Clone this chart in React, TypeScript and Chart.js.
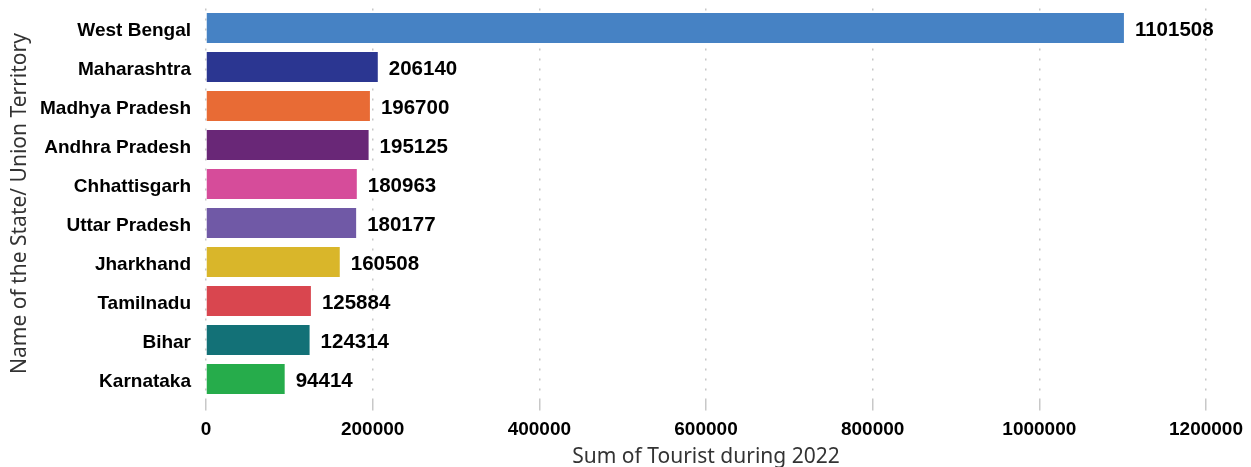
import React, { useEffect, useRef } from "react";
import { Chart, registerables } from "chart.js";

Chart.register(...registerables);

const categories = [
  "West Bengal",
  "Maharashtra",
  "Madhya Pradesh",
  "Andhra Pradesh",
  "Chhattisgarh",
  "Uttar Pradesh",
  "Jharkhand",
  "Tamilnadu",
  "Bihar",
  "Karnataka",
];

const tourists = [1101508, 206140, 196700, 195125, 180963, 180177, 160508, 125884, 124314, 94414];

const barColors = [
  "#4682C4",
  "#2B3691",
  "#E86B35",
  "#692777",
  "#D64C9A",
  "#7059A6",
  "#D9B62A",
  "#D9464F",
  "#137177",
  "#26AC4B",
];

const xTicks = [0, 200000, 400000, 600000, 800000, 1000000, 1200000];

const xTitle = "Sum of Tourist during 2022";
const yTitle = "Name of the State/ Union Territory";

const labelPlugin = {
  id: "barValueLabels",
  afterDatasetsDraw(chart: any) {
    const ctx = chart.ctx;
    const meta = chart.getDatasetMeta(0);
    const data = chart.data.datasets[0].data;
    ctx.save();
    ctx.font = "bold 20.5px 'Liberation Sans', Arial, sans-serif";
    ctx.fillStyle = "#000000";
    ctx.textAlign = "left";
    ctx.textBaseline = "middle";
    meta.data.forEach((el: any, i: number) => {
      ctx.fillText(String(data[i]), el.x + 11, el.y + 2);
    });
    ctx.restore();
  },
};

export default function App() {
  const canvasRef = useRef<HTMLCanvasElement | null>(null);

  useEffect(() => {
    if (!canvasRef.current) return;
    const chart = new Chart(canvasRef.current, {
      type: "bar",
      data: {
        labels: categories,
        datasets: [
          {
            data: tourists,
            backgroundColor: barColors,
            borderWidth: 0,
            barPercentage: 0.77,
            categoryPercentage: 1,
          },
        ],
      },
      plugins: [labelPlugin],
      options: {
        indexAxis: "y",
        animation: false,
        responsive: false,
        maintainAspectRatio: false,
        devicePixelRatio: 1,
        layout: { autoPadding: false, padding: { top: 8.5, right: 45, bottom: 0, left: 0 } },
        plugins: {
          legend: { display: false },
          tooltip: { enabled: false },
        },
        scales: {
          x: {
            type: "linear",
            min: 0,
            max: 1200000,
            afterBuildTicks: (scale: any) => {
              scale.ticks = xTicks.map((v) => ({ value: v }));
            },
            afterFit: (scale: any) => {
              scale.height = 68.5;
              scale.paddingLeft = 0;
              scale.paddingRight = 0;
            },
            border: { display: false },
            grid: {
              color: "#C8C8C8",
              lineWidth: 1.5,
              drawTicks: true,
              tickLength: 12,
            },
            ticks: {
              color: "#000000",
              padding: 8,
              maxRotation: 0,
              font: { family: "'Liberation Sans', Arial, sans-serif", size: 19, weight: "bold" },
              callback: (v: any) => String(v),
            },
            title: {
              display: true,
              text: xTitle,
              color: "#333333",
              padding: { top: 0, bottom: -3 },
              font: { family: "'Noto Sans', sans-serif", size: 21 },
            },
          },
          y: {
            afterFit: (scale: any) => {
              scale.width = 206;
              scale.paddingTop = 0;
              scale.paddingBottom = 0;
            },
            border: { display: false },
            grid: { display: false, drawTicks: false },
            ticks: {
              color: "#000000",
              padding: 15,
              labelOffset: 3,
              font: { family: "'Liberation Sans', Arial, sans-serif", size: 19, weight: "bold" },
            },
            title: {
              display: true,
              text: yTitle,
              color: "#333333",
              padding: { top: 7, bottom: 0 },
              font: { family: "'Noto Sans', sans-serif", size: 21 },
            },
          },
        },
      },
    });
    const xs: any = chart.options.scales!.x;
    xs.grid.borderDash = [2, 8];
    xs.border = { display: false, dash: [2, 8] };
    chart.update();
    return () => chart.destroy();
  }, []);

  return (
    <div style={{ position: "absolute", left: 0, top: 0, width: 1251, height: 467, background: "#ffffff" }}>
      <canvas ref={canvasRef} width={1251} height={467} style={{ width: 1251, height: 467 }} />
    </div>
  );
}
